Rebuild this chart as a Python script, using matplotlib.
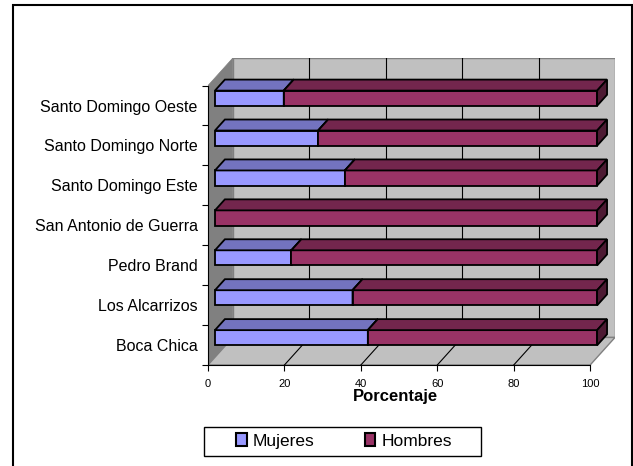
import numpy as np
import matplotlib.pyplot as plt
from matplotlib.patches import Polygon, Rectangle, Patch

plt.rcParams['font.family'] = ['Liberation Sans', 'DejaVu Sans']

categorias = ["Boca Chica", "Los Alcarrizos", "Pedro Brand", "San Antonio de Guerra",
              "Santo Domingo Este", "Santo Domingo Norte", "Santo Domingo Oeste"]
mujeres = [40, 36, 20, 0, 34, 27, 18]
hombres = [100 - m for m in mujeres]
xticks = [0, 20, 40, 60, 80, 100]

# colores estilo Excel: frente, tapa, lado
col_muj = ("#9999FF", "#7373BF", "#5C5C99")
col_hom = ("#993366", "#73264D", "#4D1A33")

# desplazamiento de profundidad (unidades de datos)
DX, DY = 6.5, 0.69
F1, F2 = 0.28, 0.68   # profundidad de la barra
B0, B1 = 0.30, 0.68   # alto de la barra dentro de la categoria

n = len(categorias)


def pt(x, y, d):
    return (x + d * DX, y + d * DY)


fig = plt.figure(figsize=(6.33, 4.66), dpi=100)
fig.patches.append(Rectangle((13 / 633, -0.05), (632 - 13) / 633, 1.05 - 5 / 466,
                             transform=fig.transFigure, fill=False,
                             edgecolor="black", lw=1.5))

ax = fig.add_axes([208 / 633, (466 - 365) / 466, 407 / 633, 307 / 466])
ax.set_xlim(0, 100 + DX)
ax.set_ylim(0, n + DY)

# paredes y piso
ax.add_patch(Polygon([pt(0, 0, 1), pt(100, 0, 1), pt(100, n, 1), pt(0, n, 1)],
                     fc="#C0C0C0", ec="#808080", lw=1, zorder=1))
ax.add_patch(Polygon([pt(0, 0, 0), pt(0, 0, 1), pt(0, n, 1), pt(0, n, 0)],
                     fc="#808080", ec="#808080", lw=0.5, zorder=1))
ax.add_patch(Polygon([pt(0, 0, 0), pt(100, 0, 0), pt(100, 0, 1), pt(0, 0, 1)],
                     fc="#C0C0C0", ec="#808080", lw=1, zorder=1))

for v in xticks[1:-1]:
    ax.plot(*zip(pt(v, 0, 1), pt(v, n, 1)), color="black", lw=0.8, zorder=2)
    ax.plot(*zip(pt(v, 0, 0), pt(v, 0, 1)), color="black", lw=0.8, zorder=2)


def caja(l, r, y, cols):
    y0, y1 = y + B0, y + B1
    frente = [pt(l, y0, F1), pt(r, y0, F1), pt(r, y1, F1), pt(l, y1, F1)]
    tapa = [pt(l, y1, F1), pt(r, y1, F1), pt(r, y1, F2), pt(l, y1, F2)]
    lado = [pt(r, y0, F1), pt(r, y0, F2), pt(r, y1, F2), pt(r, y1, F1)]
    for poly, c in zip((frente, tapa, lado), cols):
        ax.add_patch(Polygon(poly, fc=c, ec="black", lw=1.3, joinstyle="miter", zorder=3))


for i in range(n - 1, -1, -1):
    if mujeres[i] > 0:
        caja(0, mujeres[i], i, col_muj)
    caja(mujeres[i], mujeres[i] + hombres[i], i, col_hom)

for s in ("top", "right"):
    ax.spines[s].set_visible(False)
ax.spines["bottom"].set_bounds(0, 100)
ax.spines["left"].set_bounds(0, n)
ax.spines["bottom"].set_zorder(4)
ax.spines["left"].set_zorder(4)

ax.set_xticks(xticks)
ax.set_xticklabels([str(t) for t in xticks], fontsize=8)
ax.tick_params(axis="x", length=4, width=0.8, pad=6)

ax.set_yticks(np.arange(n + 1))
ax.set_yticklabels([])
ax.tick_params(axis="y", which="major", length=4.5, width=0.8)
ax.set_yticks(np.arange(n) + 0.5, minor=True)
ax.set_yticklabels(categorias, minor=True, fontsize=11.5)
ax.tick_params(axis="y", which="minor", length=0, pad=7.5)

fig.text(395 / 633, 1 - 401.5 / 466, "Porcentaje", ha="center", va="baseline",
         fontsize=12, fontweight="bold")

# leyenda con marco propio
fig.patches.append(Rectangle((204 / 633, 1 - 456 / 466), 277 / 633, 29 / 466,
                             transform=fig.transFigure, fill=False,
                             edgecolor="black", lw=1))
handles = [Patch(fc=col_muj[0], ec="black", lw=1.5), Patch(fc=col_hom[0], ec="black", lw=1.5)]
leg = fig.legend(handles, ["Mujeres", "Hombres"], loc="center",
                 bbox_to_anchor=(344 / 633, 1 - 441 / 466), ncol=2, frameon=False,
                 fontsize=12.5, handlelength=0.6, handleheight=0.75, handletextpad=0.35,
                 columnspacing=2.9, borderpad=0, borderaxespad=0)

fig.savefig("out.png", dpi=100)
